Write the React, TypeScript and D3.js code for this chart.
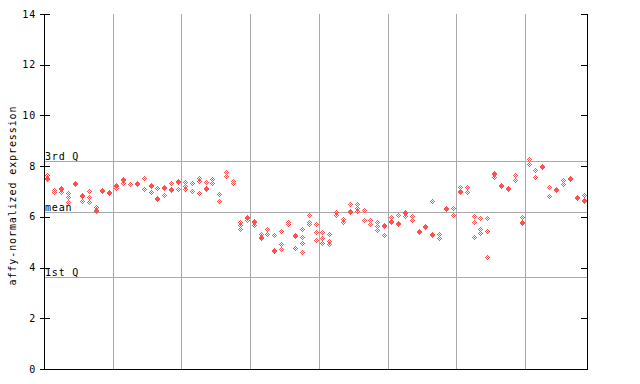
import React from "react";
import * as d3 from "d3";

// expression values per sample (replicates)
const sampleValues: number[][] = [
  [7.67, 7.55, 7.51],
  [7.04, 7.0],
  [7.15, 7.11, 6.98],
  [6.96, 6.79, 6.59],
  [7.32, 7.28],
  [6.86, 6.82, 6.64],
  [7.01, 6.79, 6.58],
  [6.39, 6.28, 6.24],
  [7.07, 7.03],
  [7.0, 6.94],
  [7.26, 7.22, 7.12],
  [7.49, 7.45, 7.34],
  [7.29],
  [7.33, 7.29],
  [7.53, 7.08],
  [7.25, 7.21, 6.98],
  [7.12, 6.73, 6.7],
  [7.16, 7.12, 6.85],
  [7.35, 7.11, 7.07],
  [7.4, 7.36, 7.09],
  [7.38, 7.22, 7.08],
  [7.35, 7.01],
  [7.52, 7.4, 6.96],
  [7.38, 7.13, 7.09],
  [7.51, 7.34],
  [6.89, 6.62],
  [7.78, 7.62],
  [7.4, 7.35],
  [5.8, 5.67, 5.54],
  [6.0, 5.96, 5.87],
  [5.84, 5.8, 5.67],
  [5.31, 5.19, 5.15],
  [5.54, 5.31],
  [5.28, 4.69, 4.65],
  [5.45, 4.92, 4.75],
  [5.79, 5.71],
  [5.27, 5.23, 4.79],
  [5.54, 5.19, 4.95, 4.6],
  [6.09, 5.8, 5.71],
  [5.7, 5.41, 5.08],
  [5.41, 5.15, 4.95],
  [5.34, 5.04, 4.92],
  [6.19, 6.07],
  [5.91, 5.8],
  [6.49, 6.25, 6.21],
  [6.49, 6.35, 6.22],
  [6.26, 5.87],
  [5.87, 5.7],
  [5.78, 5.63, 5.47],
  [5.66, 5.62, 5.28],
  [6.0, 5.82, 5.78],
  [6.07, 5.76, 5.72],
  [6.19, 6.15, 6.04],
  [6.04, 5.87],
  [5.45, 5.41],
  [5.65, 5.61],
  [6.63, 5.32, 5.28],
  [5.34, 5.15],
  [6.35, 6.31],
  [6.33, 6.07],
  [7.16, 7.02, 6.98],
  [7.16, 6.98],
  [6.02, 5.8, 5.19],
  [5.94, 5.54, 5.37],
  [5.94, 5.44, 4.4],
  [7.72, 7.68, 7.57],
  [7.27, 7.23],
  [7.14, 7.1],
  [7.64, 7.46],
  [6.0, 5.8, 5.74],
  [8.3, 8.1],
  [7.84, 7.57],
  [8.0, 7.96],
  [7.16, 6.81],
  [7.09, 7.05],
  [7.47, 7.31],
  [7.53, 7.49],
  [6.8, 6.76],
  [6.85, 6.68, 6.64],
];

const yTicks = [0, 2, 4, 6, 8, 10, 12, 14];
const refValues = [8.22, 6.21, 3.61];
const refLabels = ["3rd Q", "mean", "1st Q"];
const groupBoundaries = [10, 20, 30, 40, 50, 60, 70];
const yLabel = "affy-normalized expression";

const FONT = "'DejaVu Sans Mono', monospace";
const RED = "rgb(255,80,80)";
const GRID = "#a9a9a9";

export default function App() {
  const W = 640;
  const H = 384;
  const left = 44;
  const right = 587;
  const top = 14;
  const bottom = 369;
  const n = sampleValues.length;

  const x = d3.scaleLinear().domain([0, n]).range([left, right]);
  const y = d3.scaleLinear().domain([0, 14]).range([bottom, top]);

  const offsets: [number, number][] = [
    [0, 0], [2, 0], [-2, 0], [0, 2], [0, -2],
    [1, 1], [1, -1], [-1, 1], [-1, -1],
  ];
  const pixelSet = new Set<string>();
  sampleValues.forEach((vals, i) => {
    const cx = Math.round(x(i + 0.5));
    vals.forEach((v) => {
      const cy = Math.round(y(v));
      offsets.forEach(([dx, dy]) => pixelSet.add(`${cx + dx},${cy + dy}`));
    });
  });
  const pixels = Array.from(pixelSet).map((s) => s.split(",").map(Number));

  const px = (v: number) => Math.round(v) + 0.5;

  return (
    <svg
      width={W}
      height={H}
      style={{ position: "absolute", left: 0, top: 0, background: "#fff" }}
      shapeRendering="crispEdges"
    >
      {/* vertical group separators */}
      {groupBoundaries.map((b) => (
        <line key={"g" + b} x1={px(x(b))} x2={px(x(b))} y1={top} y2={bottom} stroke={GRID} strokeWidth={1} />
      ))}
      {/* reference lines */}
      {refValues.map((v, i) => (
        <g key={"r" + i}>
          <line x1={left} x2={right} y1={px(y(v))} y2={px(y(v))} stroke={GRID} strokeWidth={1} />
          <text x={left + 1} y={Math.round(y(v)) - 1} fontFamily={FONT} fontSize={10} letterSpacing={0.8} fill="#000">
            {refLabels[i]}
          </text>
        </g>
      ))}
      {/* points */}
      <g fill={RED}>
        {pixels.map(([a, b], k) => (
          <rect key={k} x={a} y={b} width={1} height={1} />
        ))}
      </g>
      {/* axes */}
      <line x1={px(left)} x2={px(left)} y1={top} y2={bottom + 1} stroke="#000" />
      <line x1={px(right)} x2={px(right)} y1={top} y2={bottom + 1} stroke="#000" />
      <line x1={left} x2={right + 1} y1={px(bottom)} y2={px(bottom)} stroke="#000" />
      {yTicks.map((t) => (
        <g key={"t" + t}>
          <line x1={left - 4} x2={left + 6} y1={px(y(t))} y2={px(y(t))} stroke="#000" />
          <line x1={right - 6} x2={right} y1={px(y(t))} y2={px(y(t))} stroke="#000" />
          <text
            x={36}
            y={y(t)}
            textAnchor="end"
            dominantBaseline="central"
            fontFamily={FONT}
            fontSize={10}
            letterSpacing={0.8}
            fill="#000"
          >
            {t}
          </text>
        </g>
      ))}
      <text
        transform={`translate(12,${(top + bottom) / 2 + 4}) rotate(-90)`}
        textAnchor="middle"
        dominantBaseline="central"
        fontFamily={FONT}
        fontSize={10}
        letterSpacing={0.9}
        fill="#000"
      >
        {yLabel}
      </text>
    </svg>
  );
}
